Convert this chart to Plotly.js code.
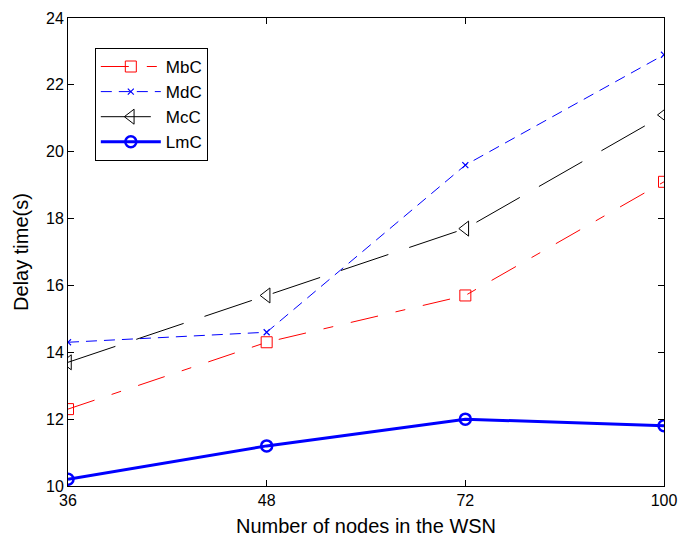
<!DOCTYPE html>
<html><head><meta charset="utf-8">
<script src="https://cdn.plot.ly/plotly-3.0.1.min.js"></script>
<style>body{margin:0;background:#fff}#c{width:678px;height:537px}</style>
</head><body><div id="c"></div>
<script>
const nodes = ['36','48','72','100'];
const mbc = [12.3, 14.3, 15.7, 19.1];
const mdc = [14.3, 14.6, 19.6, 22.9];
const mcc = [13.7, 15.7, 17.7, 21.1];
const lmc = [10.2, 11.2, 12.0, 11.8];
const yTicks = [10,12,14,16,18,20,22,24];
const names = ['MbC','MdC','McC','LmC'];

const traces = [
  {x:nodes, y:mbc, name:names[0], mode:'lines+markers',
   line:{color:'#ff0000', width:1, dash:'28px,18px,10px,18px'},
   marker:{symbol:'square-open', size:11, color:'#ff0000', line:{width:1}}},
  {x:nodes, y:mdc, name:names[1], mode:'lines+markers',
   line:{color:'#0000ff', width:1, dash:'11px,7px'},
   marker:{symbol:'x-thin-open', size:6, color:'#0000ff', line:{width:1.2}}},
  {x:nodes, y:mcc, name:names[2], mode:'lines+markers',
   line:{color:'#000000', width:1, dash:'50px,22px'},
   marker:{symbol:'triangle-left-open', size:13, color:'#000000', line:{width:1}}},
  {x:nodes, y:lmc, name:names[3], mode:'lines+markers',
   line:{color:'#0000ff', width:3},
   marker:{symbol:'circle-open', size:11, color:'#0000ff', line:{width:2.5}}}
];

const layout = {
  width:678, height:537,
  margin:{l:68, r:14, t:18, b:51},
  paper_bgcolor:'#fff', plot_bgcolor:'#fff',
  font:{family:'Liberation Sans, Arial, sans-serif', size:16, color:'#000'},
  showlegend:true,
  legend:{x:0.045, y:0.936, xanchor:'left', yanchor:'top',
          bordercolor:'#000', borderwidth:1, bgcolor:'#fff',
          font:{size:17}, tracegroupgap:0, itemwidth:60},
  xaxis:{type:'category', range:[0,3], showgrid:false, zeroline:false,
         showline:true, mirror:'ticks', linecolor:'#000', linewidth:1,
         ticks:'inside', ticklen:6, tickcolor:'#000',
         tickfont:{size:16},
         title:{text:'Number of nodes in the WSN', font:{size:20}, standoff:10}},
  yaxis:{range:[10,24], tickvals:yTicks, showgrid:false, zeroline:false,
         showline:true, mirror:'ticks', linecolor:'#000', linewidth:1,
         ticks:'inside', ticklen:6, tickcolor:'#000',
         tickfont:{size:16},
         title:{text:'Delay time(s)', font:{size:20}, standoff:12}}
};
Plotly.newPlot('c', traces, layout, {displayModeBar:false, staticPlot:true});
</script></body></html>
